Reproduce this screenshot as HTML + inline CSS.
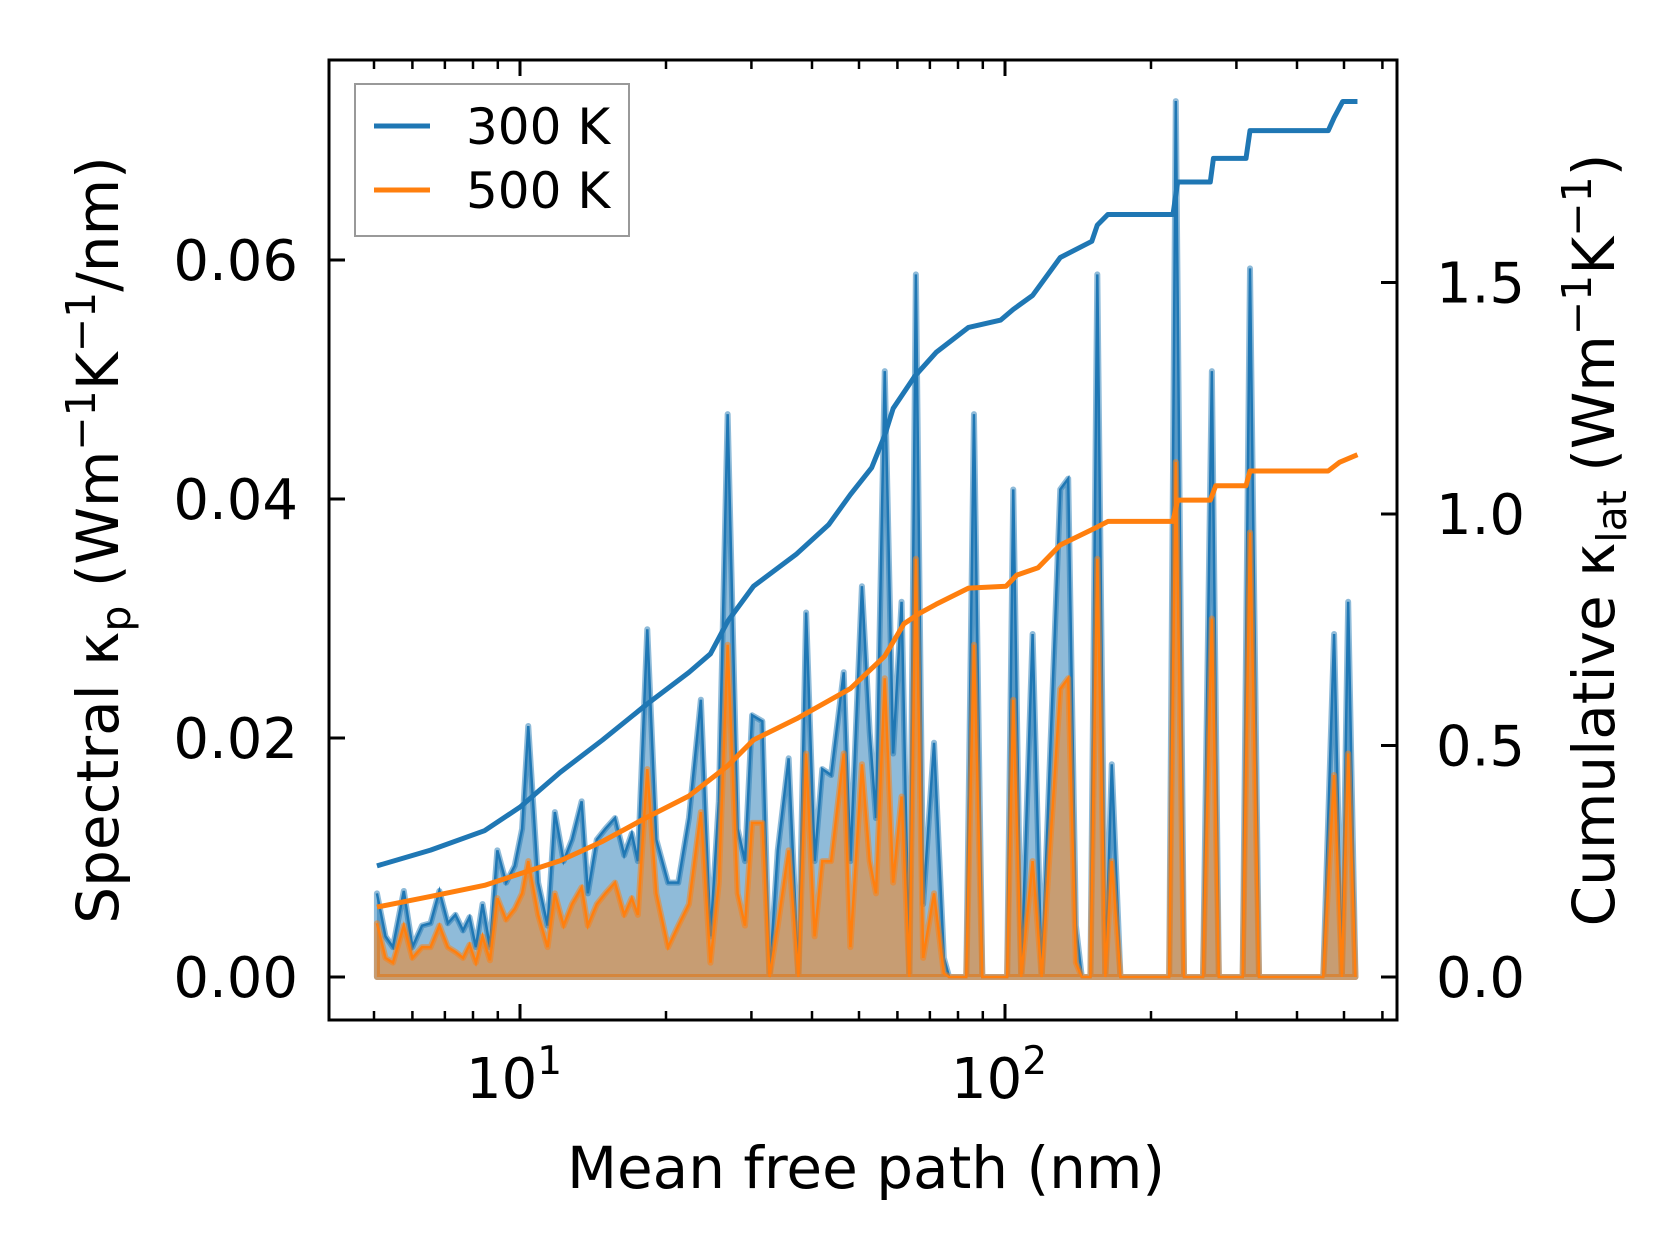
<!DOCTYPE html>
<html><head><meta charset="utf-8"><style>
html,body{margin:0;padding:0;background:#fff;}
svg{display:block;font-family:"DejaVu Sans","Liberation Sans",sans-serif;}
</style></head><body>
<svg id="chart" width="1679" height="1254" viewBox="0 0 1679 1254">
<g id="plot"></g>
<g id="axes"></g>
</svg>
<script>
const mfp = [5.07,5.28,5.47,5.76,6.00,6.28,6.54,6.82,7.10,7.36,7.63,7.87,8.11,8.37,8.67,8.98,9.36,9.75,10.1,10.4,10.9,11.4,11.8,12.3,12.8,13.4,13.8,14.4,15.0,15.7,16.4,17.0,17.5,18.3,19.1,20.2,21.2,22.3,23.6,24.7,25.7,26.8,28.1,29.1,30.1,31.6,32.7,34.0,35.8,37.5,38.9,40.5,42.0,43.8,46.5,48.0,50.7,52.6,54.2,56.5,58.8,61.2,63.5,65.5,67.8,71.4,74.8,76.7,83.2,86.3,89.8,101,104,108,114,119,130,135,140,144,150,155,161,166,173,218,225,234,256,267,276,309,320,334,453,477,495,510,528];
const spec300 = [.0070,.0034,.0025,.0072,.0025,.0043,.0045,.0072,.0045,.0052,.0039,.0050,.0025,.0061,.0025,.0106,.0079,.0093,.0124,.0210,.0079,.0043,.0138,.0097,.0115,.0147,.0070,.0115,.0124,.0133,.0102,.0120,.0097,.0291,.0115,.0079,.0079,.0133,.0232,.0034,.0147,.0471,.0124,.0097,.0219,.0214,0,.0106,.0183,0,.0305,.0097,.0174,.0169,.0255,.0097,.0327,.0205,.0133,.0507,.0187,.0314,0,.0588,.0061,.0196,.0016,0,0,.0471,0,0,.0408,0,.0287,0,.0408,.0417,.0043,0,0,.0588,0,.0178,0,0,.0733,0,0,.0507,0,0,.0593,0,0,.0287,0,.0314,0];
const spec500 = [.0045,.0016,.0012,.0043,.0016,.0025,.0025,.0043,.0025,.0021,.0016,.0027,.0012,.0034,.0014,.0066,.0048,.0057,.0070,.0097,.0052,.0025,.0070,.0043,.0061,.0075,.0043,.0061,.0070,.0079,.0052,.0066,.0052,.0174,.0070,.0025,.0043,.0061,.0138,.0012,.0079,.0278,.0070,.0043,.0129,.0129,0,.0043,.0106,0,.0187,.0034,.0097,.0097,.0187,.0025,.0178,.0097,.0070,.0250,.0079,.0151,0,.0350,.0016,.0070,.0003,0,0,.0278,0,0,.0232,0,.0097,0,.0241,.0250,.0012,0,0,.0350,0,.0097,0,0,.0431,0,0,.0300,0,0,.0372,0,0,.0169,0,.0187,0];
const cumMfp300 = [5.07,6.54,8.45,10,12.1,14.8,18.2,22.3,24.7,26.8,30.3,37.2,43.3,48.0,53.1,56.5,58.8,65.2,72.1,84.1,98,104,114,130,151,155,163,222,227,265,269,314,320,464,477,497,533];
const cum300 = [0.240,0.274,0.316,0.367,0.442,0.512,0.588,0.658,0.698,0.768,0.844,0.914,0.977,1.042,1.100,1.170,1.228,1.298,1.349,1.403,1.419,1.442,1.472,1.554,1.589,1.624,1.647,1.647,1.717,1.717,1.768,1.768,1.828,1.828,1.856,1.891,1.891];
const cumMfp500 = [5.07,6.54,8.45,10,12.1,14.8,18.2,22.3,26.8,30.3,37.2,48.0,56.5,61.9,66.8,72.1,84.1,100.5,105.7,117,130,155,163,222,227,265,272,314,320,464,490,533];
const cum500 = [0.151,0.174,0.198,0.223,0.251,0.293,0.344,0.391,0.456,0.512,0.558,0.623,0.693,0.763,0.786,0.805,0.840,0.844,0.868,0.884,0.933,0.972,0.984,0.984,1.030,1.030,1.061,1.061,1.093,1.093,1.112,1.128];
const leftTicks = [0,0.02,0.04,0.06];
const leftTickLabels = ["0.00","0.02","0.04","0.06"];
const rightTicks = [0,0.5,1.0,1.5];
const rightTickLabels = ["0.0","0.5","1.0","1.5"];
const xMajor = [10,100];
const xMajorExp = ["1","2"];

const L=329,R=1397,T=60,B=1020;
const NS="http://www.w3.org/2000/svg";
function xs(v){return 520+485*Math.log10(v/10);}
function yl(v){return 977-v*11950;}
function yr(v){return 977-v*463;}
const plot=document.getElementById('plot');
const axes=document.getElementById('axes');
function mk(tag,attrs,parent){const e=document.createElementNS(NS,tag);for(const k in attrs)e.setAttribute(k,attrs[k]);parent.appendChild(e);return e;}

function areaPath(xv,yv){let d='M'+xs(xv[0])+','+yl(0);for(let i=0;i<xv.length;i++)d+='L'+xs(xv[i])+','+yl(yv[i]);d+='L'+xs(xv[xv.length-1])+','+yl(0)+'Z';return d;}
function linePath(xv,yv,yf){let d='';for(let i=0;i<xv.length;i++)d+=(i?'L':'M')+xs(xv[i])+','+yf(yv[i]);return d;}

const a3=mk('path',{d:areaPath(mfp,spec300),fill:'#1f77b4','fill-opacity':0.5,stroke:'#1f77b4','stroke-opacity':0.5,'stroke-width':6,'stroke-linejoin':'round'},plot);


const l3=mk('path',{d:linePath(mfp,spec300,yl),fill:'none',stroke:'#1f77b4','stroke-width':2.5},plot);


const a5=mk('path',{d:areaPath(mfp,spec500),fill:'#ff7f0e','fill-opacity':0.5,stroke:'#ff7f0e','stroke-opacity':0.5,'stroke-width':6,'stroke-linejoin':'round'},plot);


const l5=mk('path',{d:linePath(mfp,spec500,yl),fill:'none',stroke:'#ff7f0e','stroke-width':2.5},plot);


const c3=mk('path',{d:linePath(cumMfp300,cum300,yr),fill:'none',stroke:'#1f77b4','stroke-width':5,'stroke-linejoin':'round'},plot);


const c5=mk('path',{d:linePath(cumMfp500,cum500,yr),fill:'none',stroke:'#ff7f0e','stroke-width':5,'stroke-linejoin':'round'},plot);



const fr=mk('rect',{x:L,y:T,width:R-L,height:B-T,fill:'none',stroke:'#000','stroke-width':3},axes);


for(let d=1;d<=1000;d*=10){for(let m=1;m<=9;m++){const v=d*m;const x=xs(v);if(x<L||x>R)continue;const maj=(m===1);const len=maj?16:9;
 const t1=mk('line',{x1:x,x2:x,y1:B,y2:B-len,stroke:'#000','stroke-width':maj?3:2.5},axes);
 
 
 const t2=mk('line',{x1:x,x2:x,y1:T,y2:T+len,stroke:'#000','stroke-width':maj?3:2.5},axes);
 
 
}}
xMajor.forEach((v,i)=>{const t=mk('text',{x:xs(v)-6,y:1098,'font-size':56,'text-anchor':'middle',fill:'#000'},axes);
 
 
 t.textContent='10';const s=mk('tspan',{dy:-24,'font-size':39},t);s.textContent=xMajorExp[i];});
leftTicks.forEach((v,i)=>{const y=yl(v);const tk=mk('line',{x1:L,x2:L+16,y1:y,y2:y,stroke:'#000','stroke-width':3},axes);
 
 
 const t=mk('text',{x:298,y:y+20,'font-size':56,'text-anchor':'end',fill:'#000'},axes);
 
 
 t.textContent=leftTickLabels[i];});
rightTicks.forEach((v,i)=>{const y=yr(v);const tk=mk('line',{x1:R,x2:R-16,y1:y,y2:y,stroke:'#000','stroke-width':3},axes);
 
 
 const t=mk('text',{x:1436,y:y+20,'font-size':56,'text-anchor':'start',fill:'#000'},axes);
 
 
 t.textContent=rightTickLabels[i];});
</script>
<script>
(function(){
const svg=document.getElementById('chart');
svg.insertAdjacentHTML('beforeend',
'<text x="866" y="1188" font-size="58" text-anchor="middle">Mean free path (nm)</text>'+
'<text transform="translate(118,540) rotate(-90)" font-size="58" text-anchor="middle">Spectral κ<tspan font-size="41" dy="12">p</tspan><tspan dy="-12"> (Wm</tspan><tspan font-size="41" dy="-23">−1</tspan><tspan dy="23">K</tspan><tspan font-size="41" dy="-23">−1</tspan><tspan dy="23">/nm)</tspan></text>'+
'<text transform="translate(1614,540) rotate(-90)" font-size="58" text-anchor="middle">Cumulative κ<tspan font-size="41" dy="12">lat</tspan><tspan dy="-12"> (Wm</tspan><tspan font-size="41" dy="-23">−1</tspan><tspan dy="23">K</tspan><tspan font-size="41" dy="-23">−1</tspan><tspan dy="23">)</tspan></text>'+
'<g><rect x="355" y="84" width="274" height="152" fill="#fff" fill-opacity="0.8" stroke="#999" stroke-width="2"/>'+
'<line x1="374" x2="430" y1="126" y2="126" stroke="#1f77b4" stroke-width="5"/>'+
'<text x="466" y="144" font-size="50">300 K</text>'+
'<line x1="374" x2="430" y1="190" y2="190" stroke="#ff7f0e" stroke-width="5"/>'+
'<text x="466" y="208" font-size="50">500 K</text></g>');
})();
</script>
</body></html>
